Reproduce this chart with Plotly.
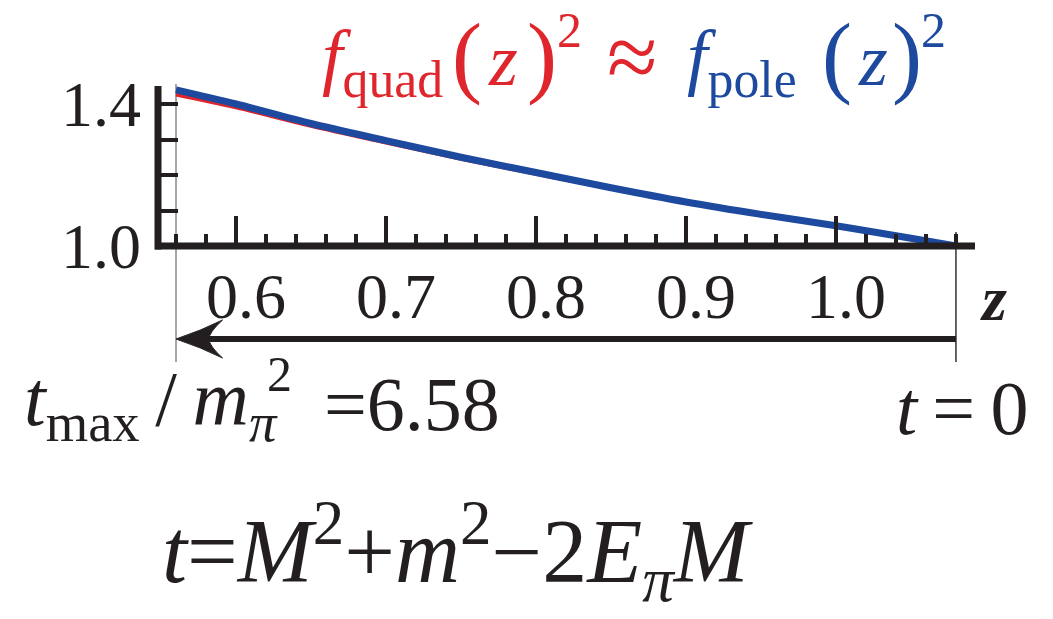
import plotly.graph_objects as go

# Form-factor ratios squared versus z
z = [0.56, 0.60, 0.65, 0.70, 0.75, 0.80, 0.85, 0.90, 0.95, 1.00, 1.05, 1.08]
f_pole_sq = [1.440, 1.400, 1.345, 1.297, 1.250, 1.207, 1.164, 1.124, 1.089, 1.057, 1.022, 1.000]
f_quad_sq = [1.428, 1.392, 1.340, 1.293, 1.247, 1.205, 1.163, 1.123, 1.089, 1.057, 1.022, 1.000]

x_tickvals = [0.6, 0.7, 0.8, 0.9, 1.0]
x_ticktext = ["0.6", "0.7", "0.8", "0.9", "1.0"]
y_tickvals = [1.0, 1.1, 1.2, 1.3, 1.4]
y_ticktext = ["1.0", "", "", "", "1.4"]

z_tmax = 0.56      # z at t = t_max
z_t0 = 1.08        # z at t = 0
tmax_over_mpi2 = "6.58"

W, H = 1053, 619
INK = "#231f20"
RED = "#e0262d"
BLUE = "#1d4a9e"
FONT = "Liberation Serif"
THIN = "\u2009"


def px(x):
    return x / W


def py(y):
    return (H - y) / H


fig = go.Figure()
fig.add_trace(go.Scatter(x=z, y=f_quad_sq, mode="lines",
                         line=dict(color=RED, width=5, shape="spline")))
fig.add_trace(go.Scatter(x=z, y=f_pole_sq, mode="lines",
                         line=dict(color=BLUE, width=7, shape="spline")))

axis_font = dict(family=FONT, size=64, color=INK)

fig.update_xaxes(
    domain=[px(158), px(975)], range=[0.548, 1.0927], automargin=False,
    showline=False, showgrid=False, zeroline=False,
    tickmode="array", tickvals=x_tickvals, ticktext=x_ticktext,
    ticks="inside", ticklen=30, tickwidth=3.5, tickcolor=INK,
    minor=dict(ticks="inside", dtick=0.02, tick0=0.6, ticklen=12,
               tickwidth=3.5, tickcolor=INK, showgrid=False),
    tickfont=axis_font, ticklabelstandoff=7, ticklabelshift=10,
)
fig.update_yaxes(
    domain=[py(246), py(86)], range=[1.0, 1.4507], automargin=False,
    showline=False, showgrid=False, zeroline=False,
    tickmode="array", tickvals=y_tickvals, ticktext=y_ticktext,
    ticks="inside", ticklen=20, tickwidth=4, tickcolor=INK,
    tickfont=axis_font, ticklabelstandoff=16,
)

# arrowhead geometry (z offsets from the tip, paper offsets from the shaft)
head_len = 0.031
head_notch = 0.022
head_half = 19 / H
y_arrow = py(339)

shapes = [
    # axis lines
    dict(type="line", xref="paper", yref="paper",
         x0=px(155), x1=px(975), y0=py(246), y1=py(246),
         line=dict(color=INK, width=7), layer="above"),
    dict(type="line", xref="paper", yref="paper",
         x0=px(158), x1=px(158), y0=py(249.5), y1=py(86),
         line=dict(color=INK, width=7), layer="above"),
    # thin guides marking t_max and t = 0
    dict(type="line", xref="x", yref="paper",
         x0=z_tmax, x1=z_tmax, y0=py(362), y1=py(84),
         line=dict(color="#8a8a8a", width=1.5), layer="below"),
    dict(type="line", xref="x", yref="paper",
         x0=z_t0, x1=z_t0, y0=py(362), y1=py(232),
         line=dict(color="#333333", width=1.5), layer="below"),
    # arrow shaft from t = 0 toward t_max
    dict(type="line", xref="x", yref="paper",
         x0=z_t0, x1=z_tmax + head_notch, y0=y_arrow, y1=y_arrow,
         line=dict(color=INK, width=6)),
    # arrowhead
    dict(type="path", xref="x", yref="paper", fillcolor=INK,
         line=dict(color=INK, width=1),
         path=(f"M{z_tmax},{y_arrow} "
               f"Q{z_tmax + 0.55 * head_len},{y_arrow + 0.45 * head_half} "
               f"{z_tmax + head_len},{y_arrow + head_half} "
               f"Q{z_tmax + head_notch},{y_arrow + 0.35 * head_half} "
               f"{z_tmax + head_notch},{y_arrow} "
               f"Q{z_tmax + head_notch},{y_arrow - 0.35 * head_half} "
               f"{z_tmax + head_len},{y_arrow - head_half} "
               f"Q{z_tmax + 0.55 * head_len},{y_arrow - 0.45 * head_half} "
               f"{z_tmax},{y_arrow} Z")),
]


def label(x, y, text, size, color=INK, xanchor="center"):
    return dict(x=px(x), y=py(y), xref="paper", yref="paper",
                xanchor=xanchor, yanchor="middle", showarrow=False,
                text=text, font=dict(family=FONT, size=size, color=color))


annotations = [
    label(993, 298, "<b><i>z</i></b>", 64),
    # heading: f_quad(z)^2 ≈ f_pole(z)^2
    label(320, 62, "<i>f</i><sub>quad</sub>", 74, RED, "left"),
    label(467, 56, "(", 90, RED),
    label(503, 60, "<i>z</i>", 74, RED),
    label(542, 56, ")", 90, RED),
    label(569, 30, "2", 50, RED),
    label(632, 57, "≈", 92, RED),
    label(685, 62, "<i>f</i><sub>pole</sub>", 74, BLUE, "left"),
    label(837, 56, "(", 90, BLUE),
    label(873, 60, "<i>z</i>", 74, BLUE),
    label(907, 56, ")", 90, BLUE),
    label(933, 30, "2", 50, BLUE),
    # t range annotations
    label(22, 404, f"<i>t</i><sub>max</sub>{THIN}/{THIN}<i>m</i><sub><i>π</i></sub>",
          78, INK, "left"),
    label(279, 374, "2", 50),
    label(502, 404, f"={tmax_over_mpi2}", 76, INK, "right"),
    label(962, 408, f"<i>t</i>{THIN}={THIN}0", 76),
    label(458, 551,
          "<i>t</i>=<i>M</i><sup>2</sup>+<i>m</i><sup>2</sup>−2<i>E</i><sub><i>π</i></sub><i>M</i>",
          90),
]

fig.update_layout(
    width=W, height=H, margin=dict(l=0, r=0, t=0, b=0, autoexpand=False),
    paper_bgcolor="white", plot_bgcolor="white",
    showlegend=False, shapes=shapes, annotations=annotations,
)

fig.write_html("out.html")
